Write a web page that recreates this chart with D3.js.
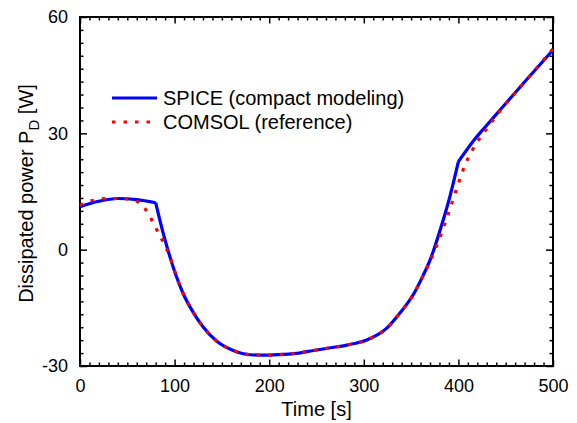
<!DOCTYPE html>
<html>
<head>
<meta charset="utf-8">
<script src="https://cdn.jsdelivr.net/npm/d3@7"></script>
<style>
  body { margin: 0; background: #fff; }
  svg { display: block; font-family: "Liberation Sans", Arial, sans-serif; }
</style>
</head>
<body>
<svg id="chart" width="577" height="423"></svg>
<script>
// SPICE (compact modeling)
var spiceTime  = [0, 20, 40, 60, 80, 88, 95, 102, 109, 120, 130, 145, 162, 180, 197, 215, 233, 247, 265, 282, 303, 324, 338, 353, 363, 370, 374, 384, 391, 400, 416, 430, 444, 472, 500];
var spicePower = [11.1, 12.5, 13.2, 12.9, 12.1, 4.2, -1.8, -7.0, -11.3, -16.3, -19.9, -23.7, -26.0, -27.1, -27.2, -27.0, -26.6, -26.0, -25.3, -24.6, -23.3, -20.3, -16.4, -11.3, -6.5, -2.7, 0.0, 7.7, 13.7, 22.7, 28.1, 32.1, 36.0, 43.8, 51.5];
// points where the SPICE curve has a corner
var spiceCorners = [80, 400];

// COMSOL (reference)
var comsolTime  = [0, 4, 16, 28, 40, 53, 63, 72, 78, 84, 90, 95, 102, 109, 120, 130, 145, 162, 180, 197, 215, 233, 247, 265, 282, 303, 324, 338, 353, 363, 370, 378, 387, 395, 400, 404, 408, 414, 420, 432, 444, 472, 500];
var comsolPower = [11.4, 12.0, 12.8, 13.2, 13.2, 13.0, 12.0, 9.4, 6.6, 3.8, 1.0, -1.8, -7.0, -11.3, -16.3, -19.9, -23.7, -26.0, -27.1, -27.2, -27.0, -26.6, -26.0, -25.3, -24.6, -23.3, -20.3, -16.4, -11.3, -6.6, -3.0, 1.6, 7.6, 13.4, 17.1, 19.9, 22.4, 25.3, 27.8, 31.9, 35.8, 43.8, 51.8];

var xTicks = [0, 100, 200, 300, 400, 500];
var yTicks = [-30, 0, 30, 60];

var svg = d3.select("#chart");
var margin = {top: 17, right: 24, bottom: 57, left: 80};
var width = +svg.attr("width") - margin.left - margin.right;
var height = +svg.attr("height") - margin.top - margin.bottom;
var g = svg.append("g").attr("transform", "translate(" + margin.left + "," + margin.top + ")");

var x = d3.scaleLinear().domain([0, 500]).range([0, width]);
var y = d3.scaleLinear().domain([-30, 60]).range([height, 0]);

// minor ticks: every 10 s on x, thirty split in nine on y
var xMinor = d3.range(0, 501, 10).filter(function(d) { return d % 100 != 0; });
var yMinor = d3.range(0, 28).map(function(i) { return -30 + i * 30 / 9; })
  .filter(function(d, i) { return i % 9 != 0; });

var plain = function(d) { return String(d); };

function tickStyle(sel) {
  sel.select(".domain").remove();
  sel.selectAll("line").attr("stroke", "#000").attr("stroke-width", 1.5);
  sel.selectAll("text").attr("fill", "#000").style("font-size", "18px");
}

// inward ticks on all four sides
g.append("g").attr("transform", "translate(0," + height + ")")
  .call(d3.axisBottom(x).tickValues(xMinor).tickSize(-3.5).tickFormat(""))
  .call(tickStyle);
g.append("g").attr("transform", "translate(0," + height + ")")
  .call(d3.axisBottom(x).tickValues(xTicks).tickSize(-6.5).tickPadding(13).tickFormat(plain))
  .call(tickStyle);
g.append("g")
  .call(d3.axisTop(x).tickValues(xMinor).tickSize(-3.5).tickFormat(""))
  .call(tickStyle);
g.append("g")
  .call(d3.axisTop(x).tickValues(xTicks).tickSize(-6.5).tickFormat(""))
  .call(tickStyle);

g.append("g")
  .call(d3.axisLeft(y).tickValues(yMinor).tickSize(-3.5).tickFormat(""))
  .call(tickStyle);
g.append("g")
  .call(d3.axisLeft(y).tickValues(yTicks).tickSize(-7).tickPadding(12).tickFormat(plain))
  .call(tickStyle);
g.append("g").attr("transform", "translate(" + width + ",0)")
  .call(d3.axisRight(y).tickValues(yMinor).tickSize(-3.5).tickFormat(""))
  .call(tickStyle);
g.append("g").attr("transform", "translate(" + width + ",0)")
  .call(d3.axisRight(y).tickValues(yTicks).tickSize(-7).tickFormat(""))
  .call(tickStyle);

// frame
g.append("rect")
  .attr("width", width).attr("height", height)
  .attr("fill", "none").attr("stroke", "#000").attr("stroke-width", 2);

// curves
var spice = spiceTime.map(function(t, i) { return {t: t, p: spicePower[i]}; });
var comsol = comsolTime.map(function(t, i) { return {t: t, p: comsolPower[i]}; });

var smooth = d3.line().curve(d3.curveMonotoneX)
  .x(function(d) { return x(d.t); })
  .y(function(d) { return y(d.p); });

// split SPICE at its corners so each piece is smooth but the kinks stay sharp
var bounds = [0].concat(spiceCorners, [500]);
var pieces = [];
for (var k = 0; k < bounds.length - 1; k++) {
  pieces.push(spice.filter(function(d) { return d.t >= bounds[k] && d.t <= bounds[k + 1]; }));
}
var spicePath = pieces.map(function(p) { return smooth(p); }).join("");

g.append("path")
  .attr("fill", "none")
  .attr("stroke", "#0000ff")
  .attr("stroke-width", 3.2)
  .attr("stroke-linejoin", "round")
  .attr("d", spicePath);

g.append("path")
  .datum(comsol)
  .attr("fill", "none")
  .attr("stroke", "#ff0000")
  .attr("stroke-width", 3.2)
  .attr("stroke-dasharray", "3.5,8")
  .attr("d", smooth);

// legend
var legend = [
  {label: "SPICE (compact modeling)", color: "#0000ff", dash: null, y: 98},
  {label: "COMSOL (reference)", color: "#ff0000", dash: "3.5,8", y: 122}
];
var lg = svg.selectAll(".legend").data(legend).enter().append("g").attr("class", "legend");
lg.append("line")
  .attr("x1", 112).attr("x2", 157)
  .attr("y1", function(d) { return d.y; }).attr("y2", function(d) { return d.y; })
  .attr("stroke", function(d) { return d.color; })
  .attr("stroke-width", 3.2)
  .attr("stroke-dasharray", function(d) { return d.dash; });
lg.append("text")
  .attr("x", 163)
  .attr("y", function(d) { return d.y + 7; })
  .style("font-size", "20px")
  .text(function(d) { return d.label; });

// axis titles
svg.append("text")
  .attr("x", margin.left + width / 2)
  .attr("y", 416)
  .attr("text-anchor", "middle")
  .style("font-size", "20px")
  .text("Time [s]");

var yt = svg.append("text")
  .attr("transform", "translate(33," + (margin.top + height / 2 + 2) + ") rotate(-90)")
  .attr("text-anchor", "middle")
  .style("font-size", "20px");
yt.append("tspan").text("Dissipated power P");
yt.append("tspan").attr("dy", 6).style("font-size", "15px").text("D");
yt.append("tspan").attr("dy", -6).text(" [W]");
</script>
</body>
</html>
